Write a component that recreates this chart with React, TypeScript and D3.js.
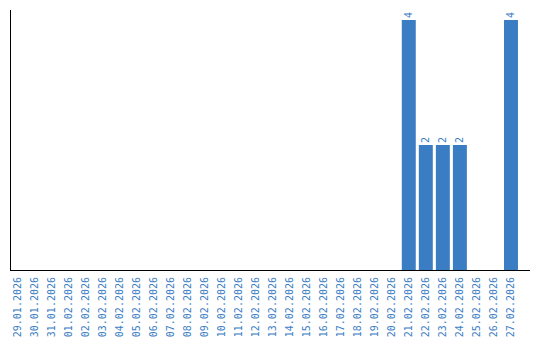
import React from "react";
import * as d3 from "d3";

const categories = [
  "29.01.2026", "30.01.2026", "31.01.2026", "01.02.2026", "02.02.2026", "03.02.2026",
  "04.02.2026", "05.02.2026", "06.02.2026", "07.02.2026", "08.02.2026", "09.02.2026",
  "10.02.2026", "11.02.2026", "12.02.2026", "13.02.2026", "14.02.2026", "15.02.2026",
  "16.02.2026", "17.02.2026", "18.02.2026", "19.02.2026", "20.02.2026", "21.02.2026",
  "22.02.2026", "23.02.2026", "24.02.2026", "25.02.2026", "26.02.2026", "27.02.2026",
];
const values = [0, 0, 0, 0, 0, 0, 0, 0, 0, 0, 0, 0, 0, 0, 0, 0, 0, 0, 0, 0, 0, 0, 0, 4, 2, 2, 2, 0, 0, 4];

const W = 540;
const H = 340;
const left = 10.5;
const right = 530;
const top = 10;
const bottom = 270;
const color = "#3b7dc3";

export default function App() {
  const x = d3.scaleBand<string>().domain(categories).range([8.5, 519.5]).paddingInner(0.18).paddingOuter(0.09);
  const y = d3.scaleLinear().domain([0, 4]).range([bottom, 20]);
  const font = "'DejaVu Sans Mono', monospace";
  return (
    <svg width={W} height={H} style={{ position: "absolute", left: 0, top: 0, background: "#fff" }}>
      {categories.map((c, i) => {
        const v = values[i];
        if (!v) return null;
        const bx = x(c)!;
        const bw = x.bandwidth();
        return (
          <g key={c}>
            <rect x={bx} y={y(v)} width={bw} height={bottom - y(v)} fill={color} />
            <text
              transform={`translate(${bx + bw / 2},${y(v) - 2}) rotate(-90)`}
              dy="0.35em"
              fontFamily={font}
              fontSize={10}
              fill={color}
              textAnchor="start"
            >
              {v}
            </text>
          </g>
        );
      })}
      <line x1={left} x2={left} y1={top} y2={bottom} stroke="#000" strokeWidth={1} />
      <line x1={left - 0.5} x2={right} y1={bottom + 0.5} y2={bottom + 0.5} stroke="#000" strokeWidth={1} />
      {categories.map((c) => (
        <text
          key={c}
          transform={`translate(${x(c)! + x.bandwidth() / 2},${bottom + 7}) rotate(-90)`}
          dy="0.35em"
          fontFamily={font}
          fontSize={10}
          fill={color}
          textAnchor="end"
        >
          {c}
        </text>
      ))}
    </svg>
  );
}
